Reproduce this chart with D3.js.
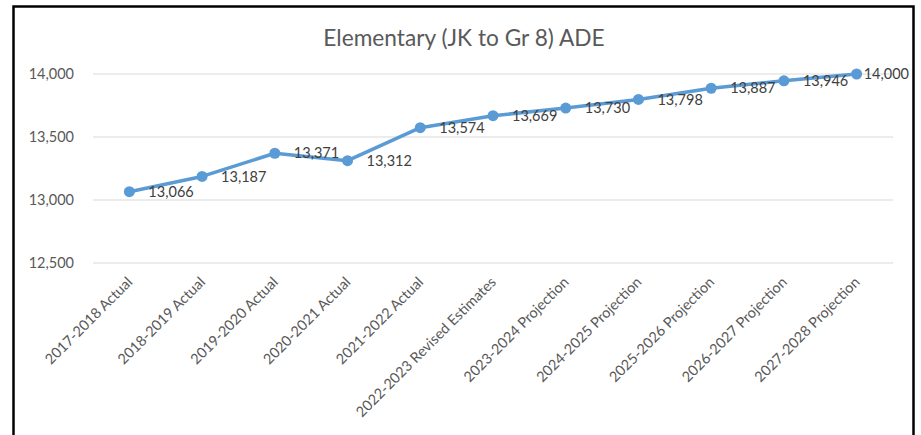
<!DOCTYPE html>
<html>
<head>
<meta charset="UTF-8">
<title>Elementary ADE</title>
<script src="https://cdnjs.cloudflare.com/ajax/libs/d3/7.8.5/d3.min.js"></script>
<style>
  body { margin: 0; background: #fff; }
  svg text { font-family: Lato, "Open Sans", sans-serif; }
</style>
</head>
<body>
<div id="chart"></div>
<script>
/*global d3*/

// chart data
var years = ["2017-2018 Actual", "2018-2019 Actual", "2019-2020 Actual", "2020-2021 Actual",
             "2021-2022 Actual", "2022-2023 Revised Estimates", "2023-2024 Projection",
             "2024-2025 Projection", "2025-2026 Projection", "2026-2027 Projection",
             "2027-2028 Projection"];
var ade = [13066, 13187, 13371, 13312, 13574, 13669, 13730, 13798, 13887, 13946, 14000];
var yTicks = [12500, 13000, 13500, 14000];
var title = "Elementary (JK to Gr 8) ADE";

var width = 921, height = 435;

var svg = d3.select("#chart").append("svg")
    .attr("width", width)
    .attr("height", height);

// frame around the chart
svg.append("rect")
    .attr("x", 13.5).attr("y", 6.5)
    .attr("width", 900).attr("height", 440)
    .attr("fill", "none")
    .attr("stroke", "#000")
    .attr("stroke-width", 2.5);

var x = d3.scaleBand()
    .domain(years)
    .range([93, 893]);

var y = d3.scaleLinear()
    .domain([12500, 14000])
    .range([263, 74]);

svg.append("text")
    .attr("x", 464)
    .attr("y", 46)
    .attr("text-anchor", "middle")
    .attr("fill", "#595959")
    .attr("font-size", "22.7px")
    .text(title);

// gridlines
svg.append("g")
  .selectAll("line")
  .data(yTicks)
  .enter().append("line")
    .attr("x1", 93).attr("x2", 893)
    .attr("y1", function(d) { return y(d); })
    .attr("y2", function(d) { return y(d); })
    .attr("stroke", "#d9d9d9")
    .attr("stroke-width", 1);

var yAxis = svg.append("g")
    .attr("transform", "translate(74,0)")
    .call(d3.axisLeft(y).tickValues(yTicks).tickFormat(d3.format(",")).tickSize(0).tickPadding(0));
yAxis.select(".domain").remove();
yAxis.selectAll("text")
    .attr("fill", "#595959")
    .attr("font-size", "14.5px");

var xAxis = svg.append("g")
    .attr("transform", "translate(0,263)")
    .call(d3.axisBottom(x).tickSize(0).tickPadding(0));
xAxis.select(".domain").remove();
xAxis.selectAll("text")
    .attr("fill", "#595959")
    .attr("font-size", "14.5px")
    .attr("text-anchor", "end")
    .attr("dy", null)
    .attr("transform", "translate(4,20) rotate(-45)");

var line = d3.line()
    .x(function(d, i) { return x(years[i]) + x.bandwidth() / 2; })
    .y(function(d) { return y(d); });

svg.append("path")
    .datum(ade)
    .attr("d", line)
    .attr("fill", "none")
    .attr("stroke", "#5b9bd5")
    .attr("stroke-width", 3.5)
    .attr("stroke-linejoin", "round");

svg.append("g")
  .selectAll("circle")
  .data(ade)
  .enter().append("circle")
    .attr("cx", function(d, i) { return x(years[i]) + x.bandwidth() / 2; })
    .attr("cy", function(d) { return y(d); })
    .attr("r", 5.5)
    .attr("fill", "#5b9bd5");

// data labels to the right of each point
svg.append("g")
  .selectAll("text")
  .data(ade)
  .enter().append("text")
    .attr("x", function(d, i) { return x(years[i]) + x.bandwidth() / 2 + (i == ade.length - 1 ? 7 : 19); })
    .attr("y", function(d) { return y(d); })
    .attr("dy", "0.35em")
    .attr("fill", "#404040")
    .attr("font-size", "14.5px")
    .text(function(d) { return d3.format(",")(d); });
</script>
</body>
</html>
